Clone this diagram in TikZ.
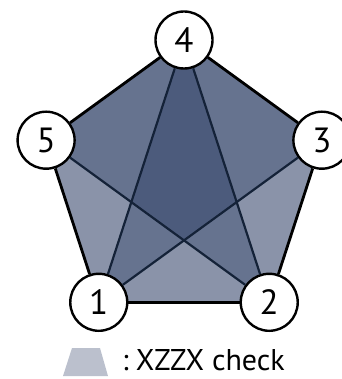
\documentclass[tikz,border=0pt]{standalone}
\usepackage{fontspec}
\setmainfont{PT Sans}
\usetikzlibrary{backgrounds}
\definecolor{checkblue}{RGB}{10,30,75}
\definecolor{diagline}{RGB}{20,34,56}

\begin{document}
\begin{tikzpicture}[x=1pt,y=1pt,
    qubit/.style={draw=black,line width=2.4pt,circle,inner sep=0pt,fill=white,minimum size=57pt,font=\fontsize{35}{38}\selectfont},
    check/.style={fill=checkblue,fill opacity=0.28},
    rim/.style={draw=black,line width=2.8pt},
    diag/.style={draw=diagline,line width=2.2pt}]
            \useasboundingbox (-184,-194) rectangle (157,185);
            \node[qubit] (4) at (90:145) {4};
            \node[qubit] (3) at (18:145) {3};
            \node[qubit] (2) at (-54:145) {2};
            \node[qubit] (1) at (-126:145) {1};
            \node[qubit] (5) at (162:145) {5};

            % XZZX checks
            \begin{scope}[on background layer]
            \fill[check] (1.center) -- (2.center) -- (3.center) -- (4.center) -- cycle;
            \fill[check] (2.center) -- (3.center) -- (4.center) -- (5.center) -- cycle;
            \fill[check] (1.center) -- (3.center) -- (4.center) -- (5.center) -- cycle;
            \fill[check] (1.center) -- (2.center) -- (4.center) -- (5.center) -- cycle;
            \end{scope}

            \path [rim] (1) edge (2);
            \path [rim] (2) edge (3);
            \path [rim] (3) edge (4);
            \path [rim] (4) edge (5);
            \path [rim] (5) edge (1);
            \path [diag] (4) edge (1);
            \path [diag] (4) edge (2);
            \path [diag] (5) edge (2);
            \path [diag] (3) edge (1);

            % legend
            \fill[check] (-121,-191) -- (-76,-191) -- (-84,-163) -- (-112,-163) -- cycle;
            \node[anchor=base west,inner sep=0pt,font=\fontsize{30}{33}\selectfont] (legend) at (-62,-185) {:\hspace{7pt}XZZX check};
        \end{tikzpicture}
\end{document}
